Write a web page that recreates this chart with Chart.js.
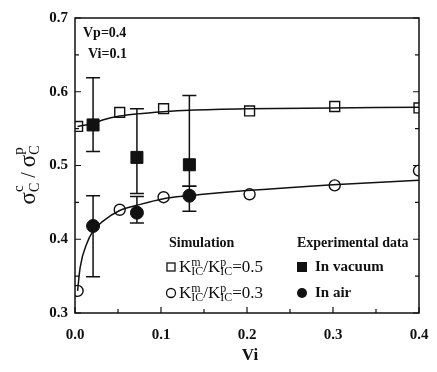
<!DOCTYPE html>
<html>
<head>
<meta charset="utf-8">
<script src="https://cdn.jsdelivr.net/npm/chart.js@4.4.0/dist/chart.umd.min.js"></script>
<style>
  html, body { margin: 0; padding: 0; background: #fff; }
  #wrap { width: 437px; height: 372px; }
</style>
</head>
<body>
<div id="wrap"><canvas id="c" width="437" height="372"></canvas></div>
<script>
// axis ticks
const xTicks = [0.0, 0.1, 0.2, 0.3, 0.4];
const yTicks = [0.3, 0.4, 0.5, 0.6, 0.7];

// simulation points
const simVi = [0.003, 0.052, 0.103, 0.203, 0.302, 0.400];
const simK05 = [0.553, 0.572, 0.577, 0.574, 0.580, 0.578];
const simK03 = [0.330, 0.440, 0.457, 0.461, 0.473, 0.493];

// fitted curves
const fitVi05 = [0.003, 0.021, 0.033, 0.052, 0.072, 0.103, 0.133, 0.2, 0.3, 0.4];
const fitK05 = [0.553, 0.557, 0.562, 0.567, 0.570, 0.573, 0.575, 0.577, 0.578, 0.579];
const fitVi03 = [0.003, 0.006, 0.014, 0.021, 0.033, 0.052, 0.072, 0.103, 0.133, 0.2, 0.3, 0.4];
const fitK03 = [0.330, 0.362, 0.395, 0.411, 0.425, 0.439, 0.446, 0.455, 0.459, 0.466, 0.474, 0.480];

// experimental data
const expVi = [0.021, 0.072, 0.133];
const vacuum = [0.555, 0.511, 0.501];
const vacuumLo = [0.519, 0.462, 0.472];
const vacuumHi = [0.619, 0.577, 0.595];
const air = [0.418, 0.436, 0.459];
const airLo = [0.349, 0.422, 0.438];
const airHi = [0.459, 0.458, 0.472];

const FONT = '"Liberation Serif", "Times New Roman", serif';
const INK = '#111';

const pts = (xs, ys) => xs.map((x, i) => ({ x: x, y: ys[i] }));

// frame + inward ticks + error bars
const framePlugin = {
  id: 'frame',
  beforeDatasetsDraw(chart) {
    const { ctx, chartArea: a, scales } = chart;
    const xs = scales.x, ys = scales.y;
    ctx.save();
    ctx.strokeStyle = INK;
    ctx.lineWidth = 1.5;
    ctx.strokeRect(a.left, a.top, a.right - a.left, a.bottom - a.top);
    ctx.lineWidth = 1.2;
    ctx.beginPath();
    for (let v = 0; v <= 0.4001; v += 0.05) {
      const px = xs.getPixelForValue(v);
      const len = Math.abs(v * 10 - Math.round(v * 10)) < 1e-6 ? 6 : 4;
      ctx.moveTo(px, a.bottom); ctx.lineTo(px, a.bottom - len);
    }
    for (let v = 0.3; v <= 0.7001; v += 0.05) {
      const py = ys.getPixelForValue(v);
      const len = Math.abs(v * 10 - Math.round(v * 10)) < 1e-6 ? 6 : 4;
      ctx.moveTo(a.left, py); ctx.lineTo(a.left + len, py);
      ctx.moveTo(a.right, py); ctx.lineTo(a.right - len, py);
    }
    ctx.stroke();

    ctx.lineWidth = 1.5;
    const bars = (lo, hi) => {
      expVi.forEach((v, i) => {
        const px = xs.getPixelForValue(v);
        const y1 = ys.getPixelForValue(lo[i]);
        const y2 = ys.getPixelForValue(hi[i]);
        ctx.beginPath();
        ctx.moveTo(px, y1); ctx.lineTo(px, y2);
        ctx.moveTo(px - 7, y1); ctx.lineTo(px + 7, y1);
        ctx.moveTo(px - 7, y2); ctx.lineTo(px + 7, y2);
        ctx.stroke();
      });
    };
    bars(vacuumLo, vacuumHi);
    bars(airLo, airHi);
    ctx.restore();
  }
};

// K^m_IC / K^p_IC = val
function drawKratio(ctx, x, y, val) {
  ctx.textBaseline = 'alphabetic';
  ctx.textAlign = 'left';
  const big = '17px ' + FONT, small = '12px ' + FONT;
  const part = (sup) => {
    ctx.font = big; ctx.fillText('K', x, y); x += ctx.measureText('K').width;
    ctx.font = small;
    ctx.fillText(sup, x, y - 6);
    ctx.fillText('IC', x, y + 3);
    x += Math.max(ctx.measureText(sup).width, ctx.measureText('IC').width);
  };
  part('m');
  ctx.font = big; ctx.fillText('/', x, y); x += ctx.measureText('/').width;
  part('p');
  ctx.font = big; ctx.fillText('=' + val, x, y);
}

const textPlugin = {
  id: 'texts',
  afterDraw(chart) {
    const { ctx, chartArea: a } = chart;
    ctx.save();
    ctx.fillStyle = INK;
    ctx.strokeStyle = INK;

    // corner notes
    ctx.font = 'bold 14px ' + FONT;
    ctx.textAlign = 'left';
    ctx.textBaseline = 'middle';
    ctx.fillText('Vp=0.4', 83, 33);
    ctx.fillText('Vi=0.1', 88, 54);

    // x title
    ctx.font = 'bold 17px ' + FONT;
    ctx.textAlign = 'center';
    ctx.fillText('Vi', 250, 356);

    // y title, rotated, with sub/superscripts
    ctx.translate(35, 175);
    ctx.rotate(-Math.PI / 2);
    const runs = [
      ['σ', 23, 0], ['C', 14, 4], ['c', 15, -12], [' / ', 20, 0],
      ['σ', 23, 0], ['C', 14, 4], ['p', 15, -12]
    ];
    const widths = runs.map(r => {
      ctx.font = r[1] + 'px ' + FONT;
      return ctx.measureText(r[0]).width;
    });
    const adv = [widths[0], 0, Math.max(widths[1], widths[2]), widths[3], widths[4], 0, Math.max(widths[5], widths[6])];
    const w = adv.reduce((s, v) => s + v, 0);
    let cx = -w / 2;
    ctx.textAlign = 'left';
    ctx.textBaseline = 'alphabetic';
    runs.forEach((r, i) => {
      ctx.font = r[1] + 'px ' + FONT;
      ctx.fillText(r[0], cx, r[2]);
      cx += adv[i];
    });
    ctx.setTransform(1, 0, 0, 1, 0, 0);

    // legend
    ctx.textAlign = 'left';
    ctx.textBaseline = 'middle';
    ctx.font = 'bold 14px ' + FONT;
    ctx.fillText('Simulation', 169, 243);
    ctx.fillText('Experimental data', 297, 243);
    ctx.font = 'bold 15px ' + FONT;
    ctx.fillText('In vacuum', 315, 267);
    ctx.fillText('In air', 315, 293);

    ctx.lineWidth = 1.3;
    ctx.strokeRect(167, 263, 8, 8);
    ctx.beginPath(); ctx.arc(171, 293, 4.5, 0, Math.PI * 2); ctx.stroke();
    ctx.fillRect(297, 262, 10, 10);
    ctx.beginPath(); ctx.arc(302, 293, 5, 0, Math.PI * 2); ctx.fill();

    drawKratio(ctx, 179, 272, '0.5');
    drawKratio(ctx, 179, 298, '0.3');
    ctx.restore();
  }
};

new Chart(document.getElementById('c').getContext('2d'), {
  type: 'scatter',
  data: {
    datasets: [
      {
        data: pts(fitVi05, fitK05), showLine: true, cubicInterpolationMode: 'monotone',
        borderColor: INK, borderWidth: 1.5, pointRadius: 0
      },
      {
        data: pts(fitVi03, fitK03), showLine: true, cubicInterpolationMode: 'monotone',
        borderColor: INK, borderWidth: 1.5, pointRadius: 0
      },
      {
        data: pts(simVi, simK05), pointStyle: 'rect', pointRadius: 7,
        borderColor: INK, backgroundColor: 'rgba(0,0,0,0)', borderWidth: 1.4
      },
      {
        data: pts(simVi, simK03), pointStyle: 'circle', pointRadius: 5.5,
        borderColor: INK, backgroundColor: 'rgba(0,0,0,0)', borderWidth: 1.4
      },
      {
        data: pts(expVi, vacuum), pointStyle: 'rect', pointRadius: 8.5,
        borderColor: INK, backgroundColor: INK, borderWidth: 1
      },
      {
        data: pts(expVi, air), pointStyle: 'circle', pointRadius: 6.5,
        borderColor: INK, backgroundColor: INK, borderWidth: 1
      }
    ]
  },
  options: {
    responsive: false,
    animation: false,
    layout: { padding: { left: 0, right: 18, top: 18, bottom: 0 } },
    plugins: { legend: { display: false }, tooltip: { enabled: false } },
    scales: {
      x: {
        type: 'linear', min: 0, max: 0.4,
        grid: { display: false, drawTicks: false },
        border: { display: false },
        afterBuildTicks: (s) => { s.ticks = xTicks.map(v => ({ value: v })); },
        afterFit: (s) => { s.height = 59; s.paddingLeft = 0; s.paddingRight = 0; },
        ticks: {
          padding: 13, color: INK,
          font: { family: FONT, size: 15, weight: 'bold' },
          callback: (v) => Number(v).toFixed(1)
        }
      },
      y: {
        type: 'linear', min: 0.3, max: 0.7,
        grid: { display: false, drawTicks: false },
        border: { display: false },
        afterBuildTicks: (s) => { s.ticks = yTicks.map(v => ({ value: v })); },
        afterFit: (s) => { s.width = 75; s.paddingTop = 0; s.paddingBottom = 0; },
        ticks: {
          padding: 7, color: INK,
          font: { family: FONT, size: 15, weight: 'bold' },
          callback: (v) => Number(v).toFixed(1)
        }
      }
    }
  },
  plugins: [framePlugin, textPlugin]
});
</script>
</body>
</html>
